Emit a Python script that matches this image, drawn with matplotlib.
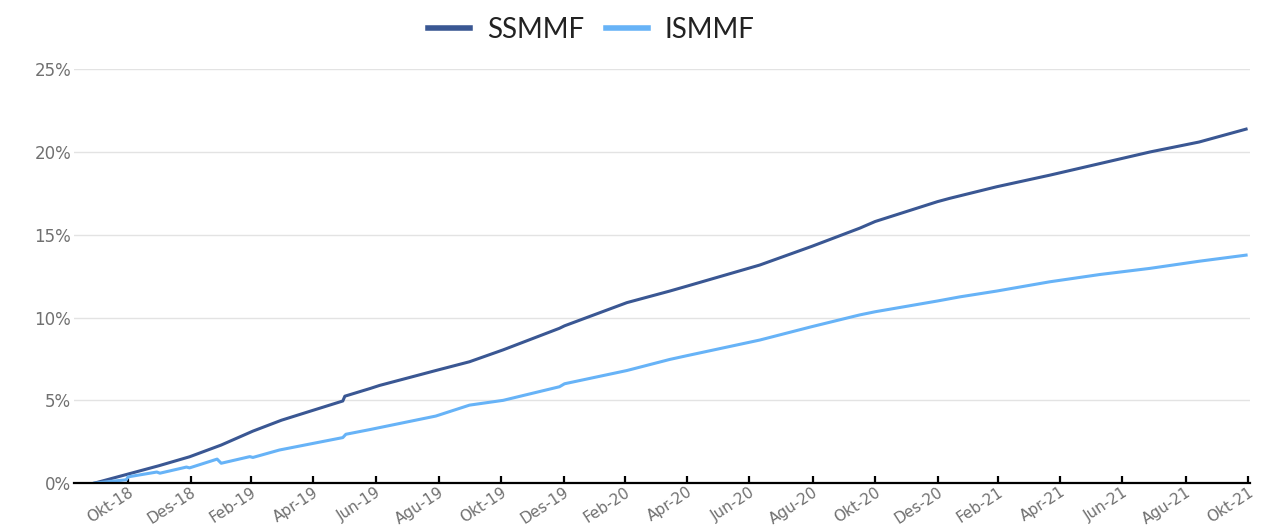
import pandas as pd
import matplotlib
matplotlib.use("Agg")
import matplotlib.pyplot as plt
from matplotlib.ticker import FuncFormatter

# cumulative return (%)
ss_dates = ["2018-09-28", "2018-10-31", "2018-11-30", "2018-12-30", "2019-01-30",
            "2019-03-02", "2019-03-30", "2019-04-30", "2019-05-29", "2019-05-31",
            "2019-06-25", "2019-07-04", "2019-08-28", "2019-09-30", "2019-11-02",
            "2019-12-27", "2020-01-01", "2020-03-02", "2020-04-13", "2020-04-30",
            "2020-07-10", "2020-08-30", "2020-10-16", "2020-10-31", "2020-12-31",
            "2021-01-12", "2021-02-27", "2021-04-20", "2021-06-08", "2021-07-27",
            "2021-09-13", "2021-10-29"]
ssmmf = [0.0, 0.55, 1.05, 1.59, 2.3,
         3.14, 3.8, 4.4, 4.96, 5.25,
         5.72, 5.9, 6.8, 7.33, 8.05,
         9.35, 9.5, 10.9, 11.6, 11.9,
         13.17, 14.3, 15.4, 15.8, 17.0,
         17.2, 17.9, 18.6, 19.3, 20.0,
         20.6, 21.38]

is_dates = ["2018-09-28", "2018-10-13", "2018-10-29", "2018-10-31", "2018-11-28",
            "2018-12-01", "2018-12-27", "2018-12-30", "2019-01-26", "2019-01-30",
            "2019-02-27", "2019-03-02", "2019-03-28", "2019-04-30", "2019-05-29",
            "2019-06-01", "2019-06-25", "2019-08-28", "2019-09-30", "2019-11-02",
            "2019-12-27", "2020-01-01", "2020-03-02", "2020-04-13", "2020-04-30",
            "2020-07-10", "2020-08-30", "2020-10-16", "2020-10-31", "2020-12-31",
            "2021-01-22", "2021-02-27", "2021-04-20", "2021-06-08", "2021-07-27",
            "2021-09-13", "2021-10-29"]
ismmf = [0.0, 0.1, 0.2, 0.38, 0.67,
         0.6, 0.97, 0.92, 1.45, 1.2,
         1.6, 1.55, 2.0, 2.4, 2.75,
         2.95, 3.24, 4.05, 4.71, 5.0,
         5.82, 6.0, 6.8, 7.47, 7.7,
         8.64, 9.45, 10.16, 10.35, 11.0,
         11.25, 11.6, 12.16, 12.6, 12.97,
         13.4, 13.77]

tick_dates = ["2018-10-31", "2018-12-31", "2019-02-28", "2019-04-30", "2019-06-30",
              "2019-08-31", "2019-10-31", "2019-12-31", "2020-02-29", "2020-04-30",
              "2020-06-30", "2020-08-31", "2020-10-31", "2020-12-31", "2021-02-28",
              "2021-04-30", "2021-06-30", "2021-08-31", "2021-10-31"]
tick_labels = ["Okt-18", "Des-18", "Feb-19", "Apr-19", "Jun-19", "Agu-19", "Okt-19",
               "Des-19", "Feb-20", "Apr-20", "Jun-20", "Agu-20", "Okt-20", "Des-20",
               "Feb-21", "Apr-21", "Jun-21", "Agu-21", "Okt-21"]

dark = "#3a5793"
light = "#67b3f7"

fig = plt.figure(figsize=(12.77, 5.28), dpi=100)
ax = fig.add_axes([0.058, 0.085, 0.921, 0.784])

ax.plot(pd.to_datetime(ss_dates), [v / 100 for v in ssmmf], color=dark, lw=2.2,
        label="SSMMF", solid_joinstyle="round")
ax.plot(pd.to_datetime(is_dates), [v / 100 for v in ismmf], color=light, lw=2.2,
        label="ISMMF", solid_joinstyle="round")

ax.set_ylim(0, 0.25)
ax.set_yticks([0, 0.05, 0.10, 0.15, 0.20, 0.25])
ax.yaxis.set_major_formatter(FuncFormatter(lambda v, p: f"{v*100:.0f}%"))
ax.set_xlim(pd.Timestamp("2018-09-08"), pd.Timestamp("2021-11-02"))
ax.set_xticks(pd.to_datetime(tick_dates))
ax.set_xticklabels(tick_labels, rotation=33, ha="right", va="top",
                   rotation_mode="anchor")

ax.grid(axis="y", color="#e3e3e3", lw=1)
ax.set_axisbelow(True)
for s in ["left", "right", "top"]:
    ax.spines[s].set_visible(False)
ax.spines["bottom"].set_linewidth(1.6)
ax.spines["bottom"].set_color("black")

ax.tick_params(axis="y", length=0, pad=2, labelsize=12, labelcolor="#707070")
ax.tick_params(axis="x", length=5, width=1.6, direction="in", pad=1,
               labelsize=11, labelcolor="#707070")
for lab in ax.get_xticklabels() + ax.get_yticklabels():
    lab.set_family("DejaVu Sans")

leg = fig.legend(loc="center", bbox_to_anchor=(0.463, 0.943), ncol=2, frameon=False,
                 prop={"family": "Lato", "size": 20}, handlelength=1.5,
                 columnspacing=0.8, handletextpad=0.6)
for line in leg.get_lines():
    line.set_linewidth(4)
for t in leg.get_texts():
    t.set_color("#222222")

fig.savefig("out.png", dpi=100)
